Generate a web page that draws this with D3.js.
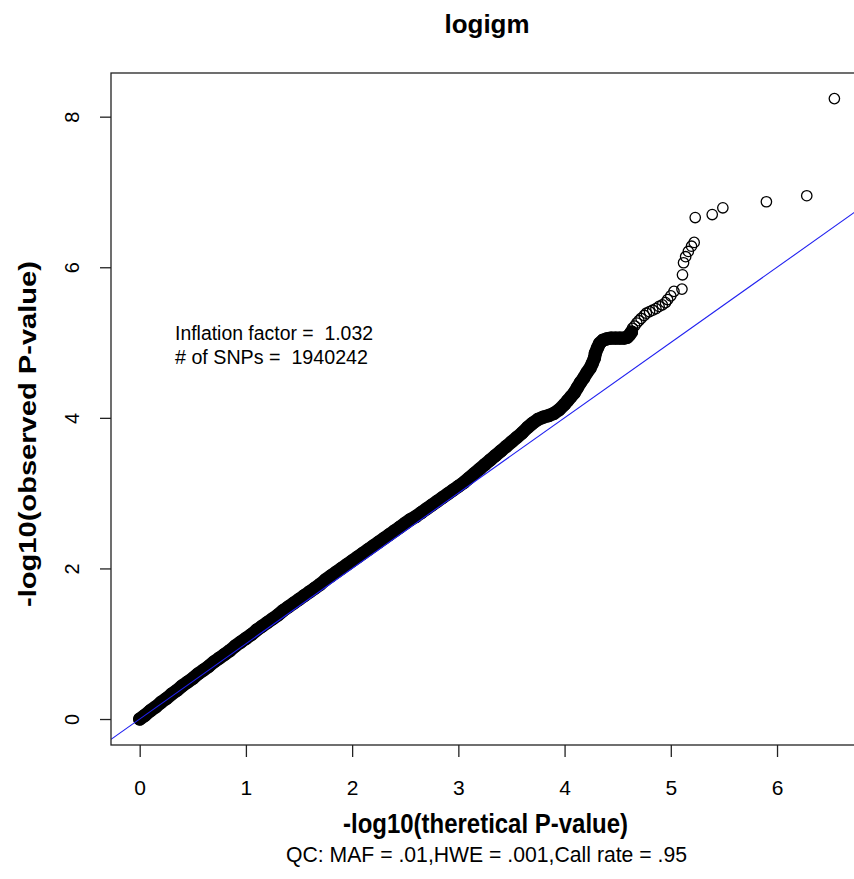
<!DOCTYPE html>
<html><head><meta charset="utf-8">
<script src="https://cdn.jsdelivr.net/npm/d3@7"></script>
<style>
body{margin:0;background:#fff}
svg{display:block;background:#fff}
text{font-family:"Liberation Sans",Arial,Helvetica,sans-serif;fill:#000}
</style>
</head><body>
<svg id="chart" width="854" height="879"></svg>
<script>
// ---- data ----
const xTicks = [0, 1, 2, 3, 4, 5, 6];
const yTicks = [0, 2, 4, 6, 8];

// dense part of the QQ cloud (theoretical vs observed -log10 p)
const denseTheo = [0.00,0.05,0.10,0.15,0.20,0.25,0.30,0.35,0.40,0.45,0.50,0.55,0.60,0.65,0.70,0.75,0.80,0.85,0.90,0.95,
  1.00,1.05,1.10,1.15,1.20,1.25,1.30,1.35,1.40,1.45,1.50,1.55,1.60,1.65,1.70,1.75,1.80,1.85,1.90,1.95,
  2.00,2.05,2.10,2.15,2.20,2.25,2.30,2.35,2.40,2.45,2.50,2.55,2.60,2.65,2.70,2.75,2.80,2.85,2.90,2.95,
  3.00,3.05,3.10,3.15,3.20,3.25,3.30,3.35,3.40,3.45,3.50,3.55,3.60,3.65,3.70,3.75,3.80,3.85,3.90,3.95,
  4.00,4.03,4.06,4.09,4.12,4.15,4.18,4.21,4.24,4.26,4.28,4.29,4.31,4.33,4.36,4.40,4.44,4.48,4.52,4.56,4.59,4.61,4.63];
const denseObs = [0.00,0.05,0.11,0.16,0.22,0.27,0.33,0.38,0.44,0.49,0.54,0.60,0.65,0.70,0.76,0.81,0.86,0.91,0.97,1.02,
  1.07,1.12,1.18,1.23,1.28,1.33,1.38,1.44,1.49,1.54,1.59,1.64,1.69,1.74,1.79,1.85,1.90,1.95,2.00,2.05,
  2.10,2.15,2.20,2.25,2.30,2.35,2.40,2.45,2.50,2.55,2.60,2.65,2.69,2.74,2.79,2.84,2.89,2.94,2.99,3.04,
  3.09,3.14,3.20,3.26,3.32,3.38,3.44,3.50,3.56,3.62,3.68,3.74,3.80,3.87,3.93,3.98,4.01,4.03,4.06,4.11,
  4.18,4.23,4.28,4.33,4.40,4.47,4.53,4.60,4.66,4.72,4.79,4.86,4.93,4.99,5.03,5.05,5.06,5.06,5.06,5.06,5.07,5.10,5.14];

// sparse tail (individual open circles)
const tailTheo = [4.64,4.66,4.68,4.70,4.72,4.75,4.77,4.80,4.83,4.86,4.89,4.92,4.95,4.97,5.00,5.03,5.105,5.11,5.12,5.14,5.165,5.195,5.22,5.23,5.39,5.49,5.90,6.28,6.54];
const tailObs  = [5.19,5.22,5.26,5.29,5.32,5.36,5.39,5.41,5.43,5.45,5.48,5.50,5.53,5.57,5.62,5.68,5.71,5.90,6.06,6.14,6.21,6.28,6.33,6.66,6.70,6.79,6.87,6.95,8.24];

const abline = {intercept: 0, slope: 1};

const titleText = "logigm";
const xLabel = "-log10(theretical P-value)";
const yLabel = "-log10(observed P-value)";
const subText = "QC: MAF = .01,HWE = .001,Call rate = .95";
const notes = ["Inflation factor =  1.032", "# of SNPs =  1940242"];

// ---- layout ----
const W = 854, H = 879;
const L = 111, R = 862, T = 73, B = 745;
const svg = d3.select("#chart");
svg.append("rect").attr("width", W).attr("height", H).attr("fill", "#fff");

const x = d3.scaleLinear().domain([-0.27, 6.80]).range([L, R]);
const y = d3.scaleLinear().domain([-0.345, 8.58]).range([B, T]);

svg.append("defs").append("clipPath").attr("id", "plotclip")
  .append("rect").attr("x", L).attr("y", T).attr("width", R - L).attr("height", B - T);

const dense = denseTheo.map((d, i) => [d, denseObs[i]]);
const tail = tailTheo.map((d, i) => [d, tailObs[i]]);

const pts = svg.append("g");
// the dense cloud of overlapping open circles renders as a solid band
pts.append("path")
  .attr("d", d3.line().x(d => x(d[0])).y(d => y(d[1]))(dense))
  .attr("fill", "none").attr("stroke", "#000").attr("stroke-width", 13.2)
  .attr("stroke-linecap", "round").attr("stroke-linejoin", "round");
pts.selectAll("circle.d").data(dense).join("circle")
  .attr("class", "d")
  .attr("cx", d => x(d[0])).attr("cy", d => y(d[1])).attr("r", 6.0)
  .attr("fill", "#000").attr("stroke", "#000").attr("stroke-width", 1.2);
pts.selectAll("circle.t").data(tail).join("circle")
  .attr("class", "t")
  .attr("cx", d => x(d[0])).attr("cy", d => y(d[1])).attr("r", 5.2)
  .attr("fill", "none").attr("stroke", "#000").attr("stroke-width", 1.3);

// reference line y = x
const xd = x.domain();
const lineData = xd.map(v => [v, abline.intercept + abline.slope * v]);
svg.append("path")
  .attr("clip-path", "url(#plotclip)")
  .attr("d", d3.line().x(d => x(d[0])).y(d => y(d[1]))(lineData))
  .attr("fill", "none").attr("stroke", "#2020f0").attr("stroke-width", 1.1);

// box
svg.append("rect").attr("x", L).attr("y", T).attr("width", R - L).attr("height", B - T)
  .attr("fill", "none").attr("stroke", "#222").attr("stroke-width", 1.3);

// x axis
const gx = svg.append("g").attr("transform", `translate(0,${B})`)
  .call(d3.axisBottom(x).tickValues(xTicks).tickFormat(d3.format("d")).tickSize(12).tickPadding(23));
gx.select(".domain").remove();
gx.selectAll("line").attr("stroke", "#222").attr("stroke-width", 1.3);
gx.selectAll("text").attr("font-size", 21).attr("fill", "#000")
  .style("font-family", '"Liberation Sans",Arial,sans-serif');

// y axis
const gy = svg.append("g").attr("transform", `translate(${L},0)`)
  .call(d3.axisLeft(y).tickValues(yTicks).tickFormat(d3.format("d")).tickSize(11));
gy.select(".domain").remove();
gy.selectAll("line").attr("stroke", "#222").attr("stroke-width", 1.3);
gy.selectAll("text")
  .attr("transform", "rotate(-90)")
  .attr("x", 0).attr("y", -32).attr("dy", null).attr("dx", null)
  .attr("text-anchor", "middle")
  .attr("font-size", 20).attr("fill", "#000")
  .style("font-family", '"Liberation Sans",Arial,sans-serif');

// title
svg.append("text").attr("x", 487).attr("y", 33).attr("text-anchor", "middle")
  .attr("font-size", 26).attr("font-weight", "bold")
  .attr("textLength", 85).attr("lengthAdjust", "spacingAndGlyphs")
  .text(titleText);

// x label
svg.append("text").attr("x", 485.5).attr("y", 833).attr("text-anchor", "middle")
  .attr("font-size", 27).attr("font-weight", "bold")
  .attr("textLength", 285).attr("lengthAdjust", "spacingAndGlyphs")
  .text(xLabel);

// subtitle
svg.append("text").attr("x", 486.5).attr("y", 862).attr("text-anchor", "middle")
  .attr("font-size", 21.5)
  .attr("textLength", 401).attr("lengthAdjust", "spacingAndGlyphs")
  .text(subText);

// y label
svg.append("text").attr("transform", `translate(36,${434}) rotate(-90)`)
  .attr("text-anchor", "middle")
  .attr("font-size", 24).attr("font-weight", "bold")
  .attr("textLength", 346).attr("lengthAdjust", "spacingAndGlyphs")
  .text(yLabel);

// annotation
const noteLens = [198, 193];
const noteY = [340, 363.5];
notes.forEach((t, i) => {
  svg.append("text").attr("x", 175).attr("y", noteY[i])
    .attr("font-size", 19.5).style("white-space", "pre")
    .attr("textLength", noteLens[i]).attr("lengthAdjust", "spacingAndGlyphs")
    .text(t);
});
</script>
</body></html>
